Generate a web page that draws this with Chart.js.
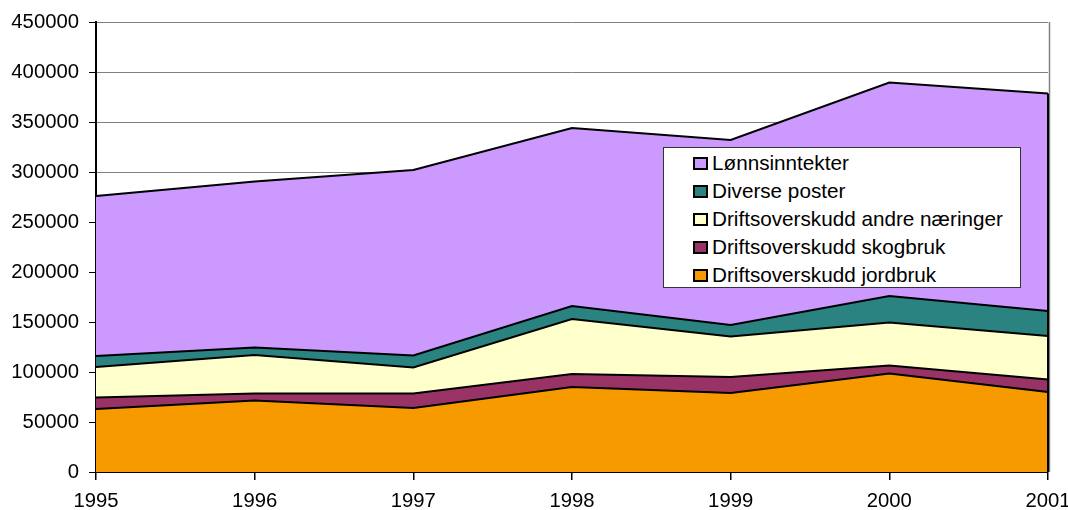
<!DOCTYPE html>
<html>
<head>
<meta charset="utf-8">
<script src="https://cdn.jsdelivr.net/npm/chart.js@4"></script>
<style>
  html, body { margin: 0; padding: 0; background: #fff; }
  #wrap { position: relative; width: 1068px; height: 510px; }
  #legend {
    position: absolute; left: 663px; top: 147px; width: 358px; height: 141px;
    background: #fff; border: 1px solid #333; box-sizing: border-box;
    font: 20.7px "Liberation Sans", Arial, sans-serif; color: #000;
    padding-top: 1px;
  }
  .item { height: 28px; display: flex; align-items: center; padding-left: 29px; }
  .swatch { width: 11px; height: 9px; border: 2px solid #000; margin-right: 4px; }
</style>
</head>
<body>
<div id="wrap">
  <canvas id="chart" width="1068" height="510"></canvas>
  <div id="legend"></div>
</div>
<script>
// Values (stacked, bottom layer first).
const years = ["1995", "1996", "1997", "1998", "1999", "2000", "2001"];
const jordbruk = [63000, 71500, 64000, 85000, 79000, 98500, 80000];
const skogbruk = [11500, 7000, 14500, 13000, 16000, 8000, 12500];
const andreNaeringer = [30500, 38500, 26000, 55000, 40500, 43000, 43500];
const diversePoster = [11000, 7500, 12000, 13000, 11500, 26500, 25000];
const lonnsinntekter = [160000, 166000, 185500, 178000, 185000, 213500, 217500];

const yTicks = { min: 0, max: 450000, step: 50000 };

const series = [
  { label: "Driftsoverskudd jordbruk", data: jordbruk, color: "#F79A00" },
  { label: "Driftsoverskudd skogbruk", data: skogbruk, color: "#993366" },
  { label: "Driftsoverskudd andre næringer", data: andreNaeringer, color: "#FFFFCC" },
  { label: "Diverse poster", data: diversePoster, color: "#2A8380" },
  { label: "Lønnsinntekter", data: lonnsinntekter, color: "#CC99FF" },
];

// Gray frame on the right of the plot area, plus the black right edge of the stack.
const frame = {
  id: "frame",
  beforeDatasetsDraw(chart) {
    const { ctx, chartArea: a } = chart;
    ctx.save();
    ctx.strokeStyle = "#808080";
    ctx.lineWidth = 1.5;
    ctx.beginPath();
    ctx.moveTo(a.right + 1.5, a.top);
    ctx.lineTo(a.right + 1.5, a.bottom);
    ctx.stroke();
    ctx.restore();
  },
  afterDatasetsDraw(chart) {
    const { ctx, chartArea: a, scales } = chart;
    const last = years.length - 1;
    const total = series.reduce((s, d) => s + d.data[last], 0);
    ctx.save();
    ctx.strokeStyle = "#000";
    ctx.lineWidth = 2;
    ctx.beginPath();
    ctx.moveTo(scales.x.getPixelForValue(last), scales.y.getPixelForValue(total));
    ctx.lineTo(scales.x.getPixelForValue(last), a.bottom);
    ctx.stroke();
    ctx.restore();
  }
};

const FONT = { family: "'Liberation Sans', Arial, sans-serif", size: 20.3 };

new Chart(document.getElementById("chart"), {
  type: "line",
  data: {
    labels: years,
    datasets: series.map((s, i) => ({
      label: s.label,
      data: s.data,
      backgroundColor: s.color,
      borderColor: "#000",
      borderWidth: 2,
      fill: i === 0 ? "origin" : "-1",
      pointRadius: 0,
      tension: 0,
    }))
  },
  options: {
    responsive: false,
    animation: false,
    layout: { padding: { top: 22, right: 20, left: 0, bottom: 0 } },
    plugins: { legend: { display: false }, tooltip: { enabled: false } },
    scales: {
      x: {
        offset: false,
        grid: { drawOnChartArea: false, drawTicks: true, tickLength: 8, tickColor: "#000", lineWidth: 1.5 },
        border: { color: "#000", width: 2 },
        ticks: { color: "#000", font: FONT, padding: 9, maxRotation: 0, autoSkip: false },
        afterFit(scale) { scale.height = 38; scale.paddingLeft = 0; scale.paddingRight = 0; }
      },
      y: {
        stacked: true,
        min: yTicks.min, max: yTicks.max,
        grid: { color: "#808080", lineWidth: 1, tickLength: 7, tickColor: "#000" },
        border: { color: "#000", width: 2 },
        ticks: { stepSize: yTicks.step, color: "#000", font: FONT, padding: 10, callback: v => String(v) },
        afterFit(scale) { scale.width = 96; scale.paddingTop = 0; scale.paddingBottom = 0; }
      }
    }
  },
  plugins: [frame]
});

// Legend box, top layer first as in the reference.
document.getElementById("legend").innerHTML = [...series].reverse().map(s =>
  `<div class="item"><span class="swatch" style="background:${s.color}"></span>${s.label}</div>`
).join("");
</script>
</body>
</html>
